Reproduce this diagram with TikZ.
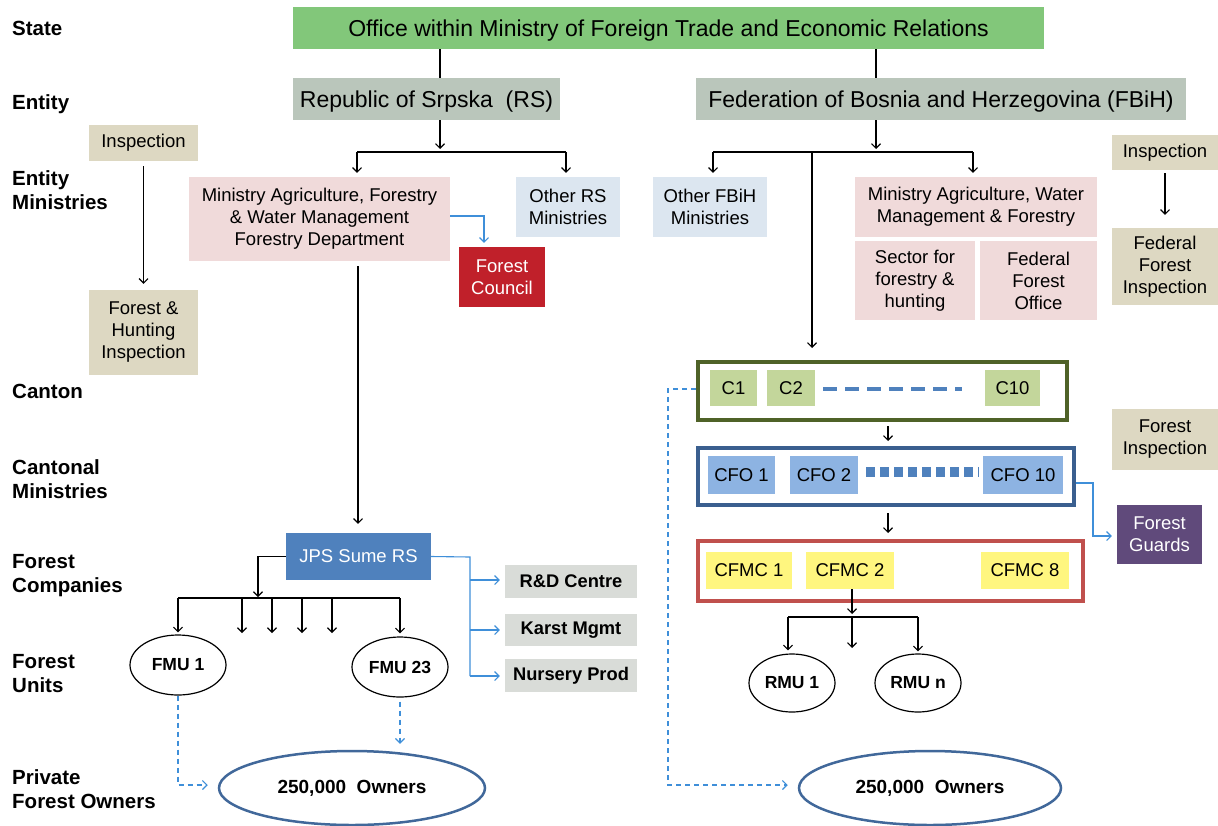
\documentclass[tikz,border=0pt]{standalone}
\usepackage{fontspec}
\setmainfont{Liberation Sans}
\usetikzlibrary{arrows.meta,shapes.geometric,calc}
\definecolor{cgreen}{HTML}{82C77A}
\definecolor{cgrey}{HTML}{BAC6BB}
\definecolor{cpink}{HTML}{F0DADA}
\definecolor{clblue}{HTML}{DCE6F0}
\definecolor{cred}{HTML}{C0202A}
\definecolor{ctan}{HTML}{DDD8C2}
\definecolor{cjps}{HTML}{4F81BD}
\definecolor{clgrey}{HTML}{D9DCD8}
\definecolor{cown}{HTML}{41689A}
\definecolor{colive}{HTML}{4F6228}
\definecolor{cc}{HTML}{C3D69B}
\definecolor{cfob}{HTML}{3A5F8F}
\definecolor{cfo}{HTML}{8DB3E2}
\definecolor{cfmcb}{HTML}{C0504D}
\definecolor{cyel}{HTML}{FFF67F}
\definecolor{cpurp}{HTML}{604A7B}
\definecolor{carrb}{HTML}{3F8FD9}
\tikzset{
  box/.style={draw=none,inner sep=0pt,align=center,font=\fontsize{18.5}{22}\selectfont},
  bigbox/.style={box,font=\fontsize{23}{27}\selectfont,text height=16pt,text depth=0pt},
  boldbox/.style={box,fill=clgrey,minimum width=132,font=\fontsize{18.3}{22}\selectfont\bfseries},
  lbl/.style={anchor=north west,inner sep=0pt,align=left,font=\fontsize{20.5}{24.5}\selectfont\bfseries},
  unit/.style={ellipse,draw,line width=1.2pt,inner sep=0pt,font=\fontsize{17.5}{20}\selectfont\bfseries},
  own/.style={ellipse,draw=cown,line width=2.5pt,inner sep=0pt,font=\fontsize{19}{22}\selectfont\bfseries},
  frame/.style={draw,line width=4pt,inner sep=0pt},
  arr/.style={line width=1.1pt,-{Straight Barb[length=4.5pt,width=9pt]}},
  ln/.style={line width=1.1pt},
  barr/.style={line width=1.1pt,draw=carrb,-{Straight Barb[length=4.5pt,width=9pt]}},
  darr/.style={line width=1.1pt,draw=carrb,dashed,dash pattern=on 5pt off 4pt,-{Straight Barb[length=4.5pt,width=9pt]}},
}
\begin{document}
\begin{tikzpicture}[x=1pt,y=-1pt]
\useasboundingbox (0,0) rectangle (1218,825);
% level labels
\node[lbl] (lstate) at (12,21) {State};
\node[lbl] (lentity) at (12,94) {Entity};
\node[lbl] (lemin) at (12,170) {Entity\\Ministries};
\node[lbl] (lcanton) at (12,384) {Canton};
\node[lbl] (lcmin) at (12,459) {Cantonal\\Ministries};
\node[lbl] (lfc) at (12,554) {Forest\\Companies};
\node[lbl] (lfu) at (12,654) {Forest\\Units};
\node[lbl] (lpfo) at (12,769) {Private\\Forest Owners};
% top
\node[bigbox,fill=cgreen,minimum width=751,minimum height=42] (office) at (668.5,28) {Office within Ministry of Foreign Trade and Economic Relations};
\node[bigbox,fill=cgrey,minimum width=267,minimum height=42] (rs) at (426.5,99) {Republic of Srpska\ \ (RS)};
\node[bigbox,fill=cgrey,minimum width=490,minimum height=42] (fbih) at (941,99) {Federation of Bosnia and Herzegovina (FBiH)};
\draw[ln] (office.south -| 440,0) -- (rs.north -| 440,0);
\draw[ln] (office.south -| 876,0) -- (fbih.north -| 876,0);
% RS side
\node[box,fill=cpink,minimum width=261,minimum height=84] (minrs) at (319.5,219) {Ministry Agriculture, Forestry\\\& Water Management\\Forestry Department};
\node[box,fill=clblue,minimum width=104,minimum height=60] (otherrs) at (568,207) {Other RS\\Ministries};
\node[box,fill=cred,text=white,minimum width=86,minimum height=60] (council) at (502,277) {Forest\\Council};
\node[box,fill=ctan,minimum width=109,minimum height=36] (insp1) at (143.5,143) {Inspection};
\node[box,fill=ctan,minimum width=109,minimum height=85] (fhinsp) at (143.5,332.5) {Forest \&\\Hunting\\Inspection};
\coordinate (rsj) at (440,152);
\draw[arr] (rs.south -| rsj) -- ([yshift=3pt]rsj);
\draw[ln] (357,152) -- (566,152);
\draw[arr] (357,152) -- ([yshift=4pt]minrs.north -| 357,0);
\draw[arr] (566,152) -- ([yshift=4pt]otherrs.north -| 566,0);
\draw[barr] (minrs.east |- 0,216) -- (484,216) -- ([yshift=4pt]council.north -| 484,0);
\draw[arr] ([yshift=-5pt]insp1.south) -- ([yshift=6pt]fhinsp.north);
\node[box,fill=cjps,text=white,minimum width=145,minimum height=47] (jps) at (358.5,556.5) {JPS Sume RS};
\draw[arr] ([yshift=-5pt]minrs.south -| 358,0) -- ([yshift=9pt]jps.north -| 358,0);
\node[unit,minimum width=96,minimum height=60] (fmu1) at (178,665) {FMU 1};
\node[unit,minimum width=96,minimum height=60] (fmu23) at (400,667) {FMU 23};
\draw[arr] (jps.west) -- (258,556.5) -- (258,597);
\draw[ln] (178,598) -- (400,598);
\draw[arr] (178,598) -- ([yshift=2pt]fmu1.north);
\foreach \xx in {242,272,302,332} \draw[arr] (\xx,598) -- (\xx,633);
\draw[arr] (400,598) -- ([yshift=3pt]fmu23.north);
\node[boldbox,minimum height=33] (rd) at (571,581.5) {R\&D Centre};
\node[boldbox,minimum height=32] (karst) at (571,630) {Karst Mgmt};
\node[boldbox,minimum height=33] (nursery) at (571,675.5) {Nursery Prod};
\coordinate (jpsr) at (470,557);
\draw[ln,draw=carrb] (jps.east) -- (jpsr) -- (470,676);
\draw[barr] (470,580) -- ([xshift=-5pt]rd.west |- 0,580);
\draw[barr] (470,630) -- ([xshift=-5pt]karst.west);
\draw[barr] (470,676) -- ([xshift=-5pt]nursery.west |- 0,676);
\node[own,minimum width=266,minimum height=74] (own1) at (352,788) {250,000\ \ Owners};
\draw[darr] (fmu1.south) -- (178,785) -- ([xshift=-10pt]own1.west |- 0,785);
\draw[darr] ([yshift=-4pt]fmu23.south) -- ([yshift=6pt]own1.north -| 400,0);
% FBiH side
\node[box,fill=clblue,minimum width=114,minimum height=60] (otherf) at (710,207) {Other FBiH\\Ministries};
\node[box,fill=cpink,minimum width=242,minimum height=60] (minf) at (976,207) {Ministry Agriculture, Water\\Management \& Forestry};
\node[box,fill=cpink,minimum width=120,minimum height=79] (sector) at (915,280.5) {Sector for\\forestry \&\\hunting};
\node[box,fill=cpink,minimum width=117,minimum height=79] (ffo) at (1038.5,280.5) {Federal\\Forest\\Office};
\node[box,fill=ctan,minimum width=106,minimum height=35] (insp2) at (1165,152.5) {Inspection};
\node[box,fill=ctan,minimum width=106,minimum height=77] (ffi) at (1165,266.5) {Federal\\Forest\\Inspection};
\draw[arr] ([yshift=-3pt]insp2.south) -- ([yshift=13pt]ffi.north);
\coordinate (fj) at (876,152);
\draw[arr] (fbih.south -| fj) -- ([yshift=3pt]fj);
\draw[ln] (713,152) -- (973,152);
\draw[arr] (713,152) -- ([yshift=4pt]otherf.north -| 713,0);
\draw[arr] (973,152) -- ([yshift=4pt]minf.north -| 973,0);
% canton
\node[frame,draw=colive,minimum width=369,minimum height=58] (canton) at (882.5,391) {};
\draw[arr] (812,152) -- ([yshift=12pt]canton.north -| 812,0);
\node[box,fill=cc,minimum width=47,minimum height=36] (c1) at (733.5,388) {C1};
\node[box,fill=cc,minimum width=48,minimum height=36] (c2) at (791,388) {C2};
\node[box,fill=cc,minimum width=55,minimum height=36] (c10) at (1012.5,388) {C10};
\draw[draw=cjps,line width=3.5pt,dash pattern=on 14pt off 8pt] ([xshift=8pt]c2.east |- 0,389) -- (962,389);
% CFO
\node[frame,draw=cfob,minimum width=376,minimum height=57] (cfoframe) at (886,476.5) {};
\node[box,fill=cfo,minimum width=67,minimum height=38] (cfo1) at (741.5,475) {CFO 1};
\node[box,fill=cfo,minimum width=68,minimum height=38] (cfo2) at (824,475) {CFO 2};
\node[box,fill=cfo,minimum width=80,minimum height=38] (cfo10) at (1023,475) {CFO 10};
\draw[draw=cjps,line width=10pt,dash pattern=on 9pt off 5pt] (866,472) -- (979,472);
\draw[arr] ([yshift=-4pt]canton.south -| 888,0) -- ([yshift=5pt]cfoframe.north -| 888,0);
% CFMC
\node[frame,draw=cfmcb,minimum width=385,minimum height=60] (cfmcframe) at (890.5,571) {};
\node[box,fill=cyel,minimum width=86,minimum height=37] (cfmc1) at (749,570.5) {CFMC 1};
\node[box,fill=cyel,minimum width=88,minimum height=37] (cfmc2) at (850,570.5) {CFMC 2};
\node[box,fill=cyel,minimum width=88,minimum height=37] (cfmc8) at (1025,570.5) {CFMC 8};
\draw[arr] ([yshift=-6pt]cfoframe.south -| 888,0) -- ([yshift=6pt]cfmcframe.north -| 888,0);
% RMU
\node[unit,minimum width=86,minimum height=58] (rmu1) at (792,683) {RMU 1};
\node[unit,minimum width=86,minimum height=58] (rmun) at (918,683) {RMU n};
\coordinate (rj) at (852,617);
\draw[arr] (cfmc2.south -| rj) -- ([yshift=3pt]rj);
\draw[ln] (788,617) -- (918,617);
\draw[arr] (788,617) -- ([yshift=3pt]rmu1.north -| 788,0);
\draw[arr] (852,617) -- (852,648);
\draw[arr] (918,617) -- ([yshift=2pt]rmun.north);
% inspection / guards
\node[box,fill=ctan,minimum width=106,minimum height=61] (finsp) at (1165,439.5) {Forest\\Inspection};
\node[box,fill=cpurp,text=white,minimum width=85,minimum height=59] (guards) at (1159.5,534.5) {Forest\\Guards};
\draw[barr] (cfoframe.east |- 0,483) -- (1093,483) -- (1093,536) -- ([xshift=-5pt]guards.west |- 0,536);
% owners right
\node[own,minimum width=262,minimum height=74] (own2) at (930,788) {250,000\ \ Owners};
\draw[darr] (canton.west |- 0,389) -- (668,389) -- (668,785) -- ([xshift=-10pt]own2.west |- 0,785);
\end{tikzpicture}
\end{document}
